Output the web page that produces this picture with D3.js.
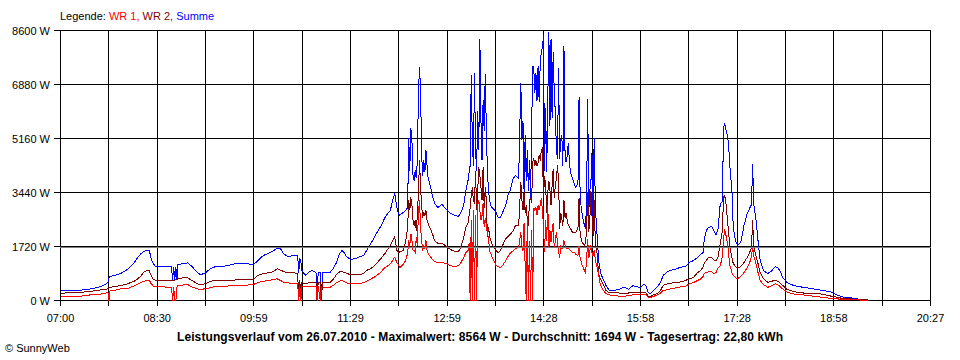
<!DOCTYPE html>
<html><head><meta charset="utf-8">
<script src="https://cdn.jsdelivr.net/npm/d3@7"></script>
<style>
html,body{margin:0;padding:0;background:#fff;}
svg{display:block;font-family:"Liberation Sans",Arial,sans-serif;}
</style></head><body>
<svg id="chart" width="960" height="360"></svg>
<script>
// ---- data ----
const times = ["07:00","07:09","07:19","07:28","07:34","07:40","07:44","07:45","07:46","07:51","07:56","08:02","08:08","08:11","08:14","08:17","08:20","08:22","08:23","08:24","08:26","08:28","08:37","08:43","08:44","08:45","08:46","08:47","08:48","08:49","08:53","08:58","09:02","09:07","09:10","09:15","09:19","09:24","09:28","09:35","09:40","09:47","09:53","09:59","10:03","10:08","10:15","10:19","10:21","10:24","10:27","10:31","10:36","10:40","10:41","10:42","10:43","10:44","10:47","10:50","10:53","10:57","10:58","10:59","11:01","11:02","11:03","11:10","11:13","11:16","11:19","11:21","11:23","11:25","11:29","11:34","11:38","11:41","11:44","11:48","11:52","11:57","12:01","12:04","12:06","12:08","12:10","12:12","12:14","12:15","12:18","12:20","12:22","12:23","12:24","12:25","12:26","12:27","12:28","12:29","12:30","12:31","12:32","12:33","12:34","12:35","12:36","12:37","12:38","12:39","12:40","12:41","12:43","12:45","12:47","12:50","12:54","12:57","13:02","13:06","13:09","13:11","13:14","13:16","13:18","13:19","13:20","13:21","13:22","13:23","13:24","13:25","13:26","13:27","13:28","13:29","13:30","13:31","13:32","13:33","13:34","13:35","13:36","13:37","13:38","13:39","13:41","13:43","13:44","13:46","13:48","13:50","13:53","13:55","13:57","14:00","14:02","14:05","14:07","14:08","14:09","14:10","14:11","14:12","14:13","14:14","14:15","14:16","14:17","14:18","14:19","14:20","14:21","14:22","14:23","14:24","14:25","14:26","14:27","14:28","14:29","14:30","14:31","14:32","14:33","14:34","14:35","14:36","14:37","14:38","14:39","14:40","14:41","14:42","14:43","14:44","14:45","14:46","14:47","14:48","14:49","14:50","14:51","14:52","14:53","14:55","14:57","14:58","15:00","15:01","15:02","15:04","15:06","15:07","15:08","15:09","15:10","15:11","15:12","15:13","15:14","15:15","15:16","15:17","15:18","15:19","15:20","15:21","15:23","15:26","15:29","15:33","15:38","15:41","15:44","15:47","15:51","15:53","15:58","16:01","16:03","16:05","16:07","16:10","16:14","16:17","16:19","16:23","16:26","16:30","16:35","16:40","16:43","16:47","16:51","16:54","16:56","16:57","16:59","17:01","17:04","17:06","17:08","17:10","17:12","17:14","17:15","17:16","17:17","17:19","17:20","17:21","17:23","17:24","17:26","17:28","17:31","17:34","17:37","17:40","17:41","17:42","17:43","17:45","17:47","17:49","17:52","17:56","17:59","18:03","18:06","18:08","18:10","18:14","18:20","18:24","18:29","18:33","18:38","18:45","18:48","18:52","18:56","19:01","19:06","19:13","19:19","19:24","19:29"];

const summe = [320,320,330,370,410,480,570,730,760,810,860,990,1180,1340,1470,1560,1590,1610,1500,1340,1180,1080,1080,1080,640,1080,640,1080,640,1150,1170,1200,1080,890,820,890,1020,1080,1080,1110,1160,1180,1170,1140,1270,1430,1540,1620,1670,1650,1490,1400,1430,1420,890,1340,1210,960,800,890,960,890,0,890,890,0,890,890,1020,1210,1500,1590,1530,1400,1310,1340,1400,1430,1590,1820,2070,2360,2640,2800,2870,3190,3410,2960,2710,2740,2800,2870,2960,5160,4140,5480,5100,3980,3820,4140,3890,4460,6530,7450,6690,4620,3980,4460,4080,4780,4300,3890,3660,3340,3090,2960,3060,2930,2770,2710,2680,2770,3030,3500,3820,4080,4300,7170,5100,4300,7260,4780,4140,6050,4780,8340,5730,4460,6370,5410,7230,5410,4140,3500,3190,3030,2930,2870,2800,2640,2640,2800,3030,3340,3500,3890,3980,3890,6940,5100,5730,3440,5260,3820,4780,3500,4460,3250,5410,7480,7390,6620,7260,6370,7480,6310,7580,7900,8060,8440,4140,6120,4080,6370,8540,5570,8340,5800,7900,6620,5990,4780,4520,7420,4520,5100,5260,4300,8120,4710,4400,4620,5000,4460,4080,3890,3660,3600,3730,6470,3250,2710,2390,2290,3190,6430,2800,3500,3760,4710,2290,5190,3250,2390,1970,1340,1080,890,700,480,320,320,350,400,410,350,480,450,410,510,480,260,220,320,450,610,800,920,960,990,1060,1080,1210,1270,1370,1470,1530,1910,2230,2330,2360,2230,2100,2290,3090,3150,5510,5640,5480,5190,4780,4240,3410,2330,1910,1750,1850,2390,2770,2990,3060,4360,3090,2610,1910,1270,960,860,920,1080,1020,890,730,570,480,450,420,400,370,330,320,290,260,160,110,90,50,30,20];

const wr2 = [230,250,260,290,320,350,370,410,420,450,480,530,610,670,760,890,960,960,890,800,680,650,640,640,640,640,640,670,670,690,720,720,640,530,500,540,610,640,640,640,650,660,660,660,800,860,890,960,1010,970,920,880,890,860,0,640,0,570,540,560,560,560,0,570,570,0,570,570,670,830,910,920,890,870,820,820,830,860,960,1020,1130,1330,1500,1660,1750,1910,2020,1590,1530,1560,1590,1850,2330,3190,2870,3280,3030,2550,2390,2550,2230,2710,3410,4460,3600,3030,2640,2800,2710,2870,2550,2450,2290,2130,1910,1820,1820,1750,1620,1560,1560,1660,2010,2330,2480,2710,2960,3340,3600,3190,3090,4140,2870,3500,4240,3980,3600,3190,4240,2960,3600,3190,2010,2330,2070,1910,1750,1660,1590,1530,1590,1750,1970,2040,2100,2230,2390,2390,3760,3190,2870,3440,2800,3030,2550,2390,3190,3250,3120,4400,4520,4300,4460,4300,4400,4620,4460,4780,4840,3250,3980,3660,2800,3440,3820,3500,3030,3660,4200,3250,3660,3890,4300,3820,2290,2800,2610,2390,3190,2640,2800,2550,2390,2360,2290,2170,2170,2170,2290,3250,2070,1850,1750,1850,2230,3440,2170,2550,3500,2710,2070,3190,1970,1660,1430,890,760,670,540,320,250,250,240,220,210,240,260,250,250,250,250,130,110,190,220,350,480,530,550,570,590,640,690,730,890,960,1080,1180,1270,1370,1370,1290,1270,1400,1820,2230,3280,3340,3190,2450,2070,1690,1340,1180,1080,1020,1080,1210,1370,1590,1690,2550,1750,1430,1180,890,700,580,610,640,610,530,480,350,290,260,240,210,210,210,190,160,130,100,60,50,30,20,20];

const wr1 = [130,130,140,180,190,220,250,0,320,330,370,380,460,510,560,610,640,640,610,540,460,450,430,420,0,420,0,0,420,480,490,510,430,370,350,380,410,450,460,460,470,480,490,510,570,610,650,680,690,640,580,560,540,540,0,460,0,460,460,460,460,450,0,450,0,430,430,420,480,570,620,640,610,560,530,530,530,570,610,690,760,900,1050,1110,1170,1270,1380,1210,1110,1050,1150,1270,1500,1910,1750,2130,1910,1590,1590,1530,2010,1750,2770,3190,2330,1910,1590,1750,1660,1910,1590,1500,1400,1310,1240,1210,1210,1180,1110,1080,1110,1180,1370,1530,1590,1820,0,2550,0,2870,0,2710,0,3030,3190,2870,2550,2710,3090,2330,2640,2390,2130,2010,1590,1500,1340,1210,1110,1080,1050,1110,1270,1400,1500,1590,1660,1690,2170,1750,1590,2480,1110,0,2610,0,1910,0,2230,0,2960,2870,2960,2710,3030,2870,3030,3250,2870,2390,1530,2550,1910,3030,1660,2230,1850,2230,2480,1660,1910,2170,1850,1590,1340,1750,1660,1660,1910,1750,1660,1660,1660,1620,1590,1530,1530,1470,1430,1750,1340,1110,960,890,1270,1970,1340,1590,1750,1530,1430,1590,1340,1150,1020,860,640,480,350,220,180,160,140,140,140,160,180,180,180,180,190,100,90,130,180,250,320,340,370,400,430,450,530,570,640,690,760,860,890,910,920,860,890,1050,1110,1400,1910,2290,2130,1750,1370,1110,860,800,730,700,760,890,1050,1270,1430,1690,1430,1180,890,640,510,420,460,530,490,420,370,260,210,190,180,160,140,110,100,80,60,50,30,20,20,10,10];

const yTicks = [0, 1720, 3440, 5160, 6880, 8600];
const xTickLabels = ["07:00","08:30","09:59","11:29","12:59","14:28","15:58","17:28","18:58","20:27"];
const averageW = 1694;
const legendTitle = "Legende: ";
const seriesNames = ["WR 1,", " WR 2,", " Summe"];
const seriesColors = ["#ff0000", "#800000", "#0000ff"];
const chartTitle = "Leistungsverlauf vom 26.07.2010 - Maximalwert: 8564 W - Durchschnitt: 1694 W - Tagesertrag: 22,80 kWh";
const credit = "\u00A9 SunnyWeb";

// ---- drawing ----
const toMin = s => +s.slice(0, 2) * 60 + +s.slice(3, 5);
const svg = d3.select("#chart");
const L = 60, R = 930, T = 30, B = 300;
const tStart = toMin(xTickLabels[0]), tEnd = toMin(xTickLabels[xTickLabels.length - 1]);
const x = d3.scaleLinear().domain([tStart, tEnd]).range([L, R]);
const y = d3.scaleLinear().domain([0, 8600]).range([B, T]);

const grid = svg.append("g").attr("shape-rendering", "crispEdges").attr("stroke", "#000").attr("stroke-width", 1);
const nV = (xTickLabels.length - 1) * 2;
for (let i = 0; i <= nV; i++) {
  const t = tStart + (tEnd - tStart) * i / nV;
  const px = Math.round(x(t)) + 0.5;
  grid.append("line").attr("x1", px).attr("x2", px).attr("y1", T).attr("y2", B + 6);
}
yTicks.forEach(v => {
  const py = Math.round(y(v)) + 0.5;
  grid.append("line").attr("x1", L - 6).attr("x2", R + 1).attr("y1", py).attr("y2", py);
});

// axis labels
xTickLabels.forEach((lab, i) => {
  const t = tStart + (tEnd - tStart) * i / (xTickLabels.length - 1);
  svg.append("text").attr("x", x(t) + 0.5).attr("y", 322).attr("text-anchor", "middle")
    .attr("font-size", 11).attr("fill", "#000").text(lab);
});
yTicks.forEach(v => {
  svg.append("text").attr("x", 50).attr("y", Math.round(y(v)) + 4.5).attr("text-anchor", "end")
    .attr("font-size", 11).attr("fill", "#000").text(v + " W");
});

// series
const mk = vals => times.map((s, i) => ({t: toMin(s), v: vals[i]}));
const line = d3.line().x(d => x(d.t) + 0.5).y(d => y(d.v) + 0.5).curve(d3.curveLinear);
[[summe, seriesColors[2]], [wr2, seriesColors[1]], [wr1, seriesColors[0]]].forEach(([vals, col]) => {
  svg.append("path").datum(mk(vals)).attr("d", line).attr("fill", "none")
    .attr("stroke", col).attr("stroke-width", 1).attr("shape-rendering", "crispEdges");
});

// average line (directly below the 1720 W grid line)
const ay = Math.round(y(averageW)) + 0.5;
svg.append("line").attr("x1", L).attr("x2", R + 1).attr("y1", ay).attr("y2", ay)
  .attr("stroke", "#808080").attr("stroke-width", 1).attr("shape-rendering", "crispEdges");

// legend
const lg = svg.append("text").attr("x", L).attr("y", 20).attr("font-size", 11).attr("xml:space", "preserve");
lg.append("tspan").attr("fill", "#000").text(legendTitle);
seriesNames.forEach((n, i) => lg.append("tspan").attr("fill", seriesColors[i]).text(n));

// title & credit
svg.append("text").attr("x", 480).attr("y", 341).attr("text-anchor", "middle")
  .attr("font-size", 12).attr("font-weight", "bold").attr("fill", "#000")
  .attr("textLength", 606).attr("lengthAdjust", "spacing").text(chartTitle);
svg.append("text").attr("x", 5).attr("y", 352).attr("font-size", 11).attr("fill", "#000").text(credit);
</script>
</body></html>
